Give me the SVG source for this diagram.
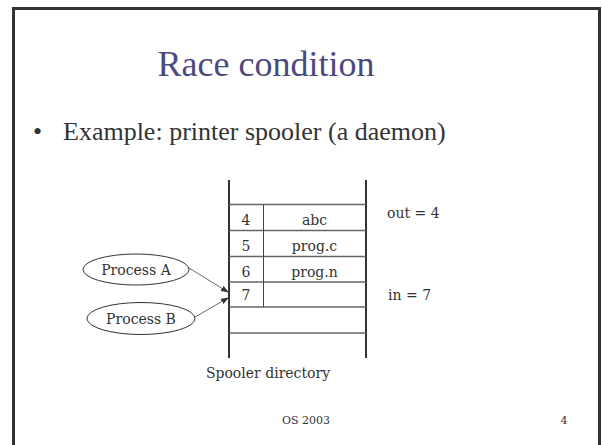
<svg xmlns="http://www.w3.org/2000/svg" width="602" height="445" viewBox="0 0 602 445">
<style>
text{font-family:"Liberation Serif","Times New Roman",serif;fill:#333}
.t{font-size:36px;fill:#4b4a7d}
.b{font-size:26px}
.s{font-family:"DejaVu Serif","Liberation Serif",serif;font-size:14px}
.f{font-family:"DejaVu Serif","Liberation Serif",serif;font-size:11px}
.v{stroke:#333;stroke-width:2;fill:none}
.h{stroke:#666;stroke-width:1.5;fill:none}
.d{stroke:#444;stroke-width:1;fill:none}
.e{fill:#fff;stroke:#333;stroke-width:1}
.c{stroke:#444;stroke-width:0.8;fill:none}
</style>
<defs>
<marker id="ah" markerWidth="8" markerHeight="6" refX="7" refY="3" orient="auto" markerUnits="userSpaceOnUse">
<path d="M0,0 L8,3 L0,6 Z" fill="#333"/>
</marker>
</defs>
<rect x="0" y="0" width="602" height="445" fill="#fff"/>
<rect x="13.5" y="8.5" width="586" height="460" fill="none" stroke="#333" stroke-width="3"/>
<text class="t" x="266" y="76" text-anchor="middle">Race condition</text>
<text class="b" x="33" y="140">•</text>
<text class="b" x="63" y="140">Example: printer spooler (a daemon)</text>
<g id="directory">
<line class="v" x1="229" y1="180" x2="229" y2="358"/>
<line class="v" x1="366" y1="180" x2="366" y2="358"/>
<line class="h" x1="229" y1="204.5" x2="366" y2="204.5"/>
<line class="h" x1="229" y1="230.5" x2="366" y2="230.5"/>
<line class="h" x1="229" y1="256.5" x2="366" y2="256.5"/>
<line class="h" x1="229" y1="282" x2="366" y2="282"/>
<line class="h" x1="229" y1="307" x2="366" y2="307"/>
<line class="h" x1="229" y1="333" x2="366" y2="333"/>
<line class="d" x1="263.5" y1="204.5" x2="263.5" y2="307"/>
<text class="s" x="246" y="225" text-anchor="middle">4</text>
<text class="s" x="246" y="251" text-anchor="middle">5</text>
<text class="s" x="246" y="277" text-anchor="middle">6</text>
<text class="s" x="246" y="300" text-anchor="middle">7</text>
<text class="s" x="314.5" y="225" text-anchor="middle">abc</text>
<text class="s" x="314.5" y="251" text-anchor="middle">prog.c</text>
<text class="s" x="314.5" y="277" text-anchor="middle">prog.n</text>
<text class="s" x="268" y="378" text-anchor="middle">Spooler directory</text>
</g>
<g id="out"><text class="s" x="387" y="218">out = 4</text></g>
<g id="in"><text class="s" x="388" y="300">in = 7</text></g>
<g id="processA">
<ellipse class="e" cx="136" cy="269.5" rx="53" ry="15.5"/>
<text class="s" x="136" y="275" text-anchor="middle">Process A</text>
</g>
<g id="processB">
<ellipse class="e" cx="141" cy="318.5" rx="54" ry="16"/>
<text class="s" x="141" y="324" text-anchor="middle">Process B</text>
</g>
<g id="connectors">
<line class="c" x1="189" y1="268" x2="228" y2="292" marker-end="url(#ah)"/>
<line class="c" x1="195" y1="317" x2="228" y2="298" marker-end="url(#ah)"/>
</g>
<text class="f" x="306" y="424" text-anchor="middle">OS 2003</text>
<text class="f" x="564" y="424" text-anchor="middle">4</text>
</svg>
